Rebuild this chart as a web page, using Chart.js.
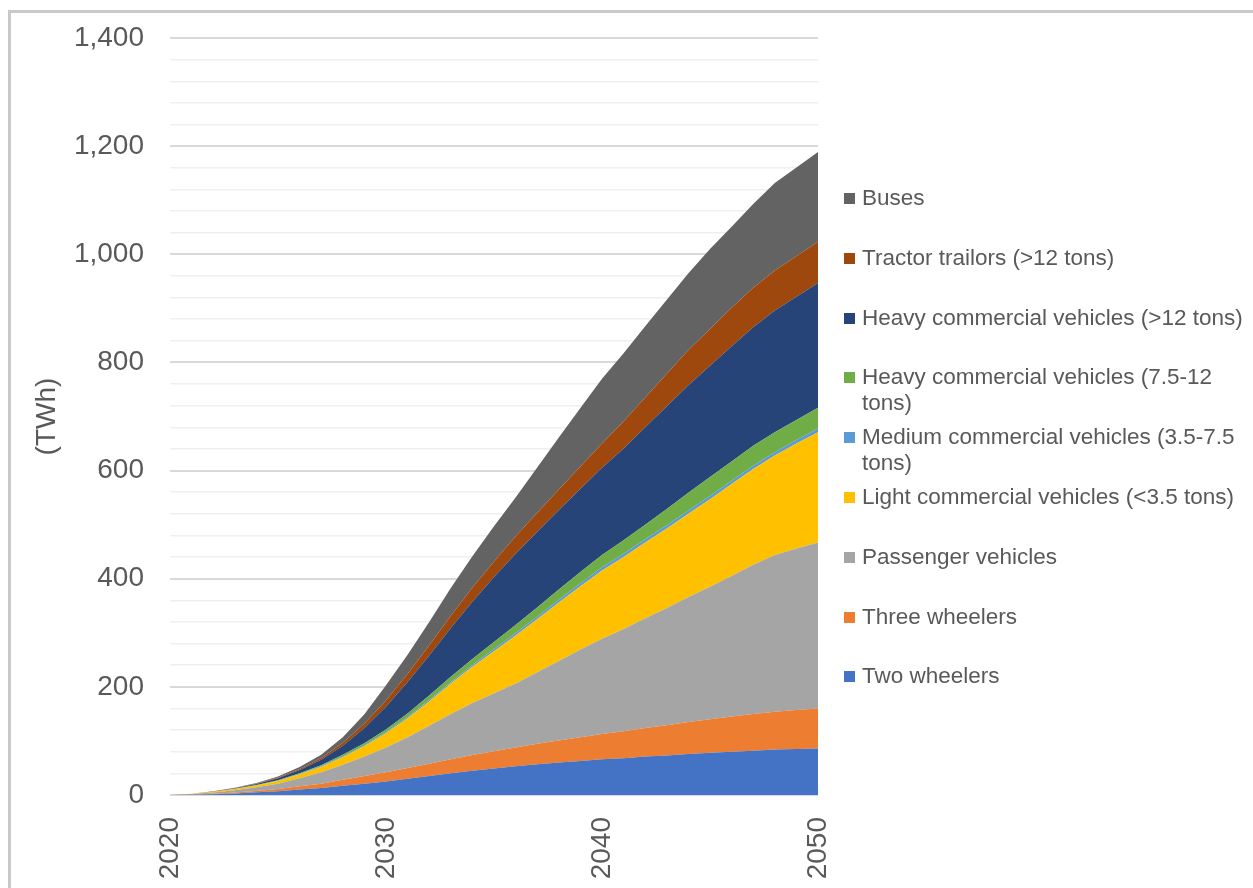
<!DOCTYPE html>
<html>
<head>
<meta charset="utf-8">
<script src="https://cdn.jsdelivr.net/npm/chart.js@4.4.0/dist/chart.umd.min.js"></script>
<style>
  html, body { margin: 0; padding: 0; background: #fff; overflow: hidden; }
  #wrap { position: relative; width: 1253px; height: 888px; }
  #frame { position: absolute; left: 8px; top: 10px; width: 1400px; height: 1000px;
           border-left: 3px solid #c9c9c9; border-top: 3px solid #c9c9c9; }
  #stackChart { position: absolute; left: 0; top: 0; }
  #legend { position: absolute; left: 844px; top: 168px; font-family: "Liberation Sans", Arial, sans-serif;
            font-size: 22.5px; color: #595959; }
  .item { position: relative; height: 59.8px; }
  .box { position: absolute; left: 0; top: 25px; width: 11px; height: 11px; }
  .txt { position: absolute; left: 18px; top: 17px; width: 392px; line-height: 26px; }
</style>
</head>
<body>
<div id="wrap">
  <div id="frame"></div>
  <canvas id="stackChart" width="1253" height="888"></canvas>
  <div id="legend"></div>
</div>
<script>
const years = [];
for (let y = 2020; y <= 2050; y++) years.push(String(y));

const twoWheelers   = [0, 0.5, 1.5, 3, 5, 7, 10, 13, 17, 21, 25, 30, 35, 40, 45, 49, 53, 57, 60, 63, 66, 68, 71, 73, 76, 78, 80, 82, 84, 85, 86];
const threeWheelers = [0, 0.3, 0.8, 1.5, 2.5, 4, 6, 8, 11, 14, 17, 20, 23, 26, 29, 32, 35, 38, 41, 44, 47, 50, 53, 56, 59, 62, 65, 68, 70, 72, 74];
const passenger     = [0, 1, 2.5, 4.5, 7, 10, 15, 21, 28, 36, 46, 57, 70, 84, 96, 107, 118, 132, 147, 162, 176, 189, 203, 217, 231, 245, 260, 276, 290, 299, 307];
const lightComm     = [0, 0.3, 1, 2, 3, 5, 7, 10, 14, 19, 26, 35, 45, 56, 67, 78, 89, 98, 108, 117, 126, 133, 140, 147, 154, 162, 170, 177, 184, 194, 204];
const mediumComm    = [0, 0, 0.1, 0.2, 0.3, 0.5, 0.7, 1, 1.3, 1.7, 2, 2.4, 2.8, 3.2, 3.6, 4, 4.4, 4.8, 5.2, 5.6, 6, 6, 6, 6, 6, 6, 6, 6, 6, 6.5, 7];
const heavyCommMid  = [0, 0, 0.2, 0.4, 0.7, 1, 1.5, 2, 3, 4, 5, 6.5, 8, 9.5, 11, 13, 15, 17, 19, 21, 23, 25, 27, 30, 33, 35, 36, 37, 37, 37, 38];
const heavyComm     = [0, 0.2, 0.5, 1, 2, 3.5, 6, 10, 17, 28, 42, 58, 74, 90, 106, 120, 132, 140, 147, 154, 161, 170, 180, 190, 199, 206, 213, 219, 225, 228, 231];
const tractor       = [0, 0, 0.2, 0.4, 0.7, 1.2, 2, 3.5, 5.5, 8.5, 12, 15.5, 19, 23, 26, 29, 32, 35, 38, 41, 45, 50, 55, 60, 65, 68, 71, 73, 74, 75, 76];
const buses         = [0, 0.1, 0.3, 0.6, 1, 2, 3.5, 6, 10, 17, 28, 35, 43, 51, 58, 65, 72, 84, 96, 108, 120, 126, 132, 137, 142, 148, 150, 155, 162, 164, 166];

const seriesNames = [
  'Two wheelers',
  'Three wheelers',
  'Passenger vehicles',
  'Light commercial vehicles (<3.5 tons)',
  'Medium commercial vehicles (3.5-7.5 tons)',
  'Heavy commercial vehicles (7.5-12 tons)',
  'Heavy commercial vehicles (>12 tons)',
  'Tractor trailors (>12 tons)',
  'Buses'
];
const seriesData = [twoWheelers, threeWheelers, passenger, lightComm, mediumComm, heavyCommMid, heavyComm, tractor, buses];
const seriesColors = ['#4472C4', '#ED7D31', '#A5A5A5', '#FFC000', '#5B9BD5', '#70AD47', '#264478', '#9E480E', '#636363'];

const yTicks = [0, 200, 400, 600, 800, 1000, 1200, 1400];
const yMinorStep = 40;
const xTickLabels = ['2020', '2030', '2040', '2050'];

const textColor = '#595959';
const fontFamily = '"Liberation Sans", Arial, sans-serif';

const datasets = seriesNames.map((name, i) => ({
  label: name,
  data: seriesData[i],
  backgroundColor: seriesColors[i],
  borderColor: seriesColors[i],
  borderWidth: 0,
  pointRadius: 0,
  tension: 0,
  fill: i === 0 ? 'origin' : '-1',
}));

const ctx = document.getElementById('stackChart').getContext('2d');
const chart = new Chart(ctx, {
  type: 'line',
  data: { labels: years, datasets: datasets },
  options: {
    responsive: false,
    animation: false,
    layout: { padding: { left: 0, top: 38, right: 435, bottom: 0 } },
    plugins: {
      legend: { display: false },
      tooltip: { enabled: false },
    },
    scales: {
      x: {
        offset: false,
        grid: { display: false },
        border: { display: false },
        ticks: {
          autoSkip: false,
          maxRotation: 90,
          minRotation: 90,
          padding: 14,
          color: textColor,
          font: { family: fontFamily, size: 28 },
          callback: function (value) {
            const lab = this.getLabelForValue(value);
            return xTickLabels.includes(lab) ? lab : '';
          },
        },
        afterFit: (scale) => {
          scale.height = 93;
          scale.paddingLeft = 0;
          scale.paddingRight = 0;
        },
      },
      y: {
        stacked: true,
        min: 0,
        max: 1400,
        border: { display: false },
        grid: {
          drawTicks: false,
          color: (c) => (yTicks.includes(c.tick.value) ? '#d9d9d9' : '#efefef'),
          lineWidth: (c) => (yTicks.includes(c.tick.value) ? 2 : 1.5),
        },
        ticks: {
          autoSkip: false,
          padding: 26,
          color: textColor,
          font: { family: fontFamily, size: 28 },
          callback: (v) => (yTicks.includes(v) ? v.toLocaleString('en-US') : ''),
        },
        afterBuildTicks: (scale) => {
          const t = [];
          for (let v = 0; v <= 1400; v += yMinorStep) t.push({ value: v });
          scale.ticks = t;
        },
        title: {
          display: true,
          text: '(TWh)',
          color: textColor,
          font: { family: fontFamily, size: 28 },
          padding: { top: 30, bottom: 0 },
        },
        afterFit: (scale) => {
          scale.width = 170;
          scale.paddingTop = 0;
          scale.paddingBottom = 0;
        },
      },
    },
  },
});

// Legend, listed top-down (reverse of stacking order)
const legendEl = document.getElementById('legend');
chart.data.datasets.slice().reverse().forEach((ds) => {
  const item = document.createElement('div');
  item.className = 'item';
  const box = document.createElement('div');
  box.className = 'box';
  box.style.background = ds.backgroundColor;
  const txt = document.createElement('div');
  txt.className = 'txt';
  txt.textContent = ds.label;
  item.appendChild(box);
  item.appendChild(txt);
  legendEl.appendChild(item);
});
</script>
</body>
</html>
